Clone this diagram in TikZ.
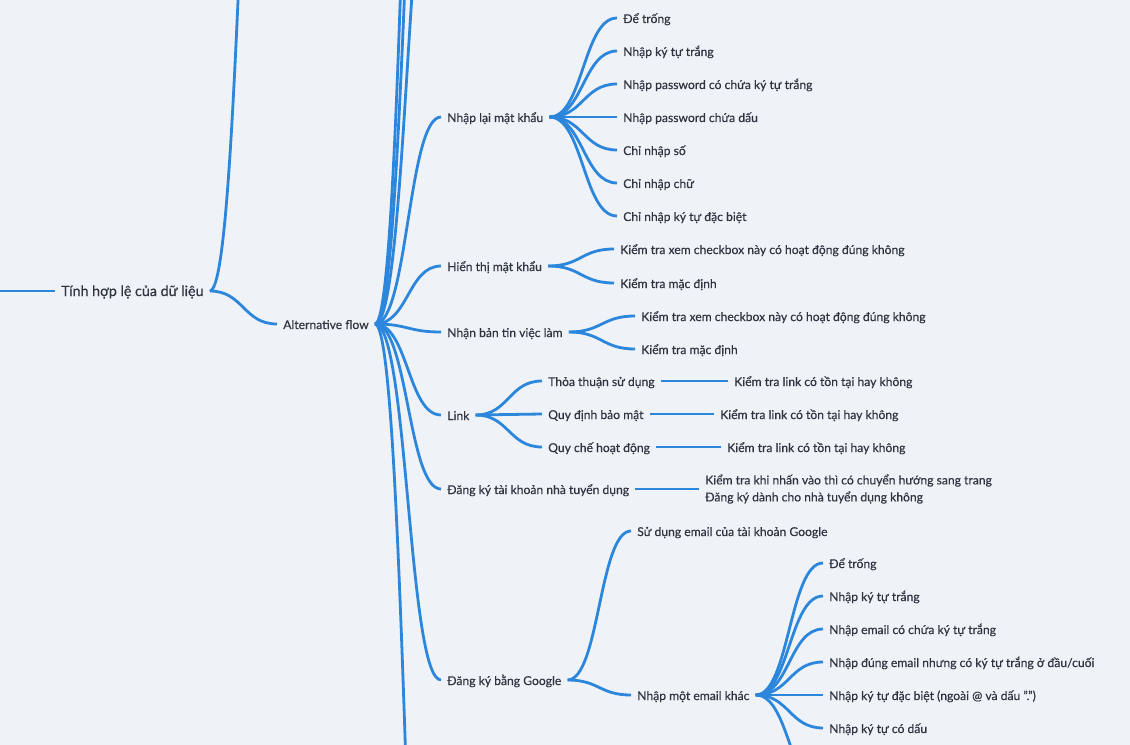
\documentclass[tikz,border=0pt]{standalone}
\usepackage{fontspec}
\setmainfont{Lato}[FakeBold=0.35]
\usetikzlibrary{calc}
\definecolor{bgc}{HTML}{EFF3F7}
\definecolor{lnc}{HTML}{2B86DC}
\definecolor{txc}{HTML}{2E3440}
\tikzset{
  mmline/.style={draw=lnc, line width=2.1pt},
  nd/.style={anchor=west, inner xsep=4.5pt, inner ysep=0pt, text height=9pt, text depth=1.5pt, font=\fontsize{9.1pt}{11pt}\selectfont, text=txc},
  rootnd/.style={nd, font=\fontsize{10.7pt}{13pt}\selectfont},
}
\newcommand\mmconn[2]{\draw[mmline] let \p1=(#1), \p2=(#2) in (\p1) .. controls ({0.5*(\x1+\x2)},\y1) and ({0.5*(\x1+\x2)},\y2) .. (\p2);}
\begin{document}
\begin{tikzpicture}[x=0.75pt,y=-0.75pt]
\useasboundingbox (0,0) rectangle (1130,745);
\fill[bgc] (0,0) rectangle (1130,745);
\clip (0,0) rectangle (1130,745);

% off-canvas ends
\coordinate (lp) at (-20,291);
\coordinate (rootup) at (272,-420);
\coordinate (altup1) at (440,-194);
\coordinate (altup2) at (440,-480);
\coordinate (altup3) at (440,-799);
\coordinate (altdown) at (440,1296);
\coordinate (emdown) at (823,790);

% nodes
\node[rootnd] (root) at (55,291) {Tính hợp lệ của dữ liệu};
\node[nd] (alt) at (277,324) {Alternative flow};

\node[nd] (n1) at (441,117) {Nhập lại mật khẩu};
\node[nd] (n1a) at (617,18) {Để trống};
\node[nd] (n1b) at (617,51) {Nhập ký tự trắng};
\node[nd] (n1c) at (617,84) {Nhập password có chứa ký tự trắng};
\node[nd] (n1d) at (617,117) {Nhập password chứa dấu};
\node[nd] (n1e) at (617,150) {Chỉ nhập số};
\node[nd] (n1f) at (617,183) {Chỉ nhập chữ};
\node[nd] (n1g) at (617,216) {Chỉ nhập ký tự đặc biệt};

\node[nd] (n2) at (441,266) {Hiển thị mật khẩu};
\node[nd] (n2a) at (614,249) {Kiểm tra xem checkbox này có hoạt động đúng không};
\node[nd] (n2b) at (614,283) {Kiểm tra mặc định};

\node[nd] (n3) at (441,332) {Nhận bản tin việc làm};
\node[nd] (n3a) at (635,316) {Kiểm tra xem checkbox này có hoạt động đúng không};
\node[nd] (n3b) at (635,349) {Kiểm tra mặc định};

\node[nd] (n4) at (441,415) {Link};
\node[nd] (n4a) at (542,381) {Thỏa thuận sử dụng};
\node[nd] (n4b) at (542,414) {Quy định bảo mật};
\node[nd] (n4c) at (542,447) {Quy chế hoạt động};
\node[nd] (n4aa) at (728,381) {Kiểm tra link có tồn tại hay không};
\node[nd] (n4ba) at (714,414) {Kiểm tra link có tồn tại hay không};
\node[nd] (n4ca) at (721,447) {Kiểm tra link có tồn tại hay không};

\node[nd] (n5) at (441,489) {Đăng ký tài khoản nhà tuyển dụng};
\node[nd, text height=, text depth=, align=left, font=\fontsize{9.1pt}{12.75pt}\selectfont] (n5a) at (699,489) {Kiểm tra khi nhấn vào thì có chuyển hướng sang trang\\Đăng ký dành cho nhà tuyển dụng không};

\node[nd] (n6) at (441,680) {Đăng ký bằng Google};
\node[nd] (n6a) at (631,531) {Sử dụng email của tài khoản Google};
\node[nd] (n6b) at (631,695) {Nhập một email khác};
\node[nd] (n6ba) at (823,563) {Để trống};
\node[nd] (n6bb) at (823,596) {Nhập ký tự trắng};
\node[nd] (n6bc) at (823,629) {Nhập email có chứa ký tự trắng};
\node[nd] (n6bd) at (823,662) {Nhập đúng email nhưng có ký tự trắng ở đầu/cuối};
\node[nd] (n6be) at (823,695) {Nhập ký tự đặc biệt (ngoài @ và dấu ".")};
\node[nd] (n6bf) at (823,728) {Nhập ký tự có dấu};

% connectors
\draw[mmline] (lp) -- (root.west);
\mmconn{root.east}{rootup}
\mmconn{root.east}{alt.west}
\foreach \c in {altup1,altup2,altup3,altdown,n1.west,n2.west,n3.west,n4.west,n5.west,n6.west}{\mmconn{alt.east}{\c}}
\foreach \c in {n1a,n1b,n1c,n1d,n1e,n1f,n1g}{\mmconn{n1.east}{\c.west}}
\foreach \c in {n2a,n2b}{\mmconn{n2.east}{\c.west}}
\foreach \c in {n3a,n3b}{\mmconn{n3.east}{\c.west}}
\foreach \c in {n4a,n4b,n4c}{\mmconn{n4.east}{\c.west}}
\mmconn{n4a.east}{n4aa.west}
\mmconn{n4b.east}{n4ba.west}
\mmconn{n4c.east}{n4ca.west}
\mmconn{n5.east}{n5a.west}
\foreach \c in {n6a,n6b}{\mmconn{n6.east}{\c.west}}
\foreach \c in {n6ba,n6bb,n6bc,n6bd,n6be,n6bf}{\mmconn{n6b.east}{\c.west}}
\mmconn{n6b.east}{emdown}
\end{tikzpicture}
\end{document}
